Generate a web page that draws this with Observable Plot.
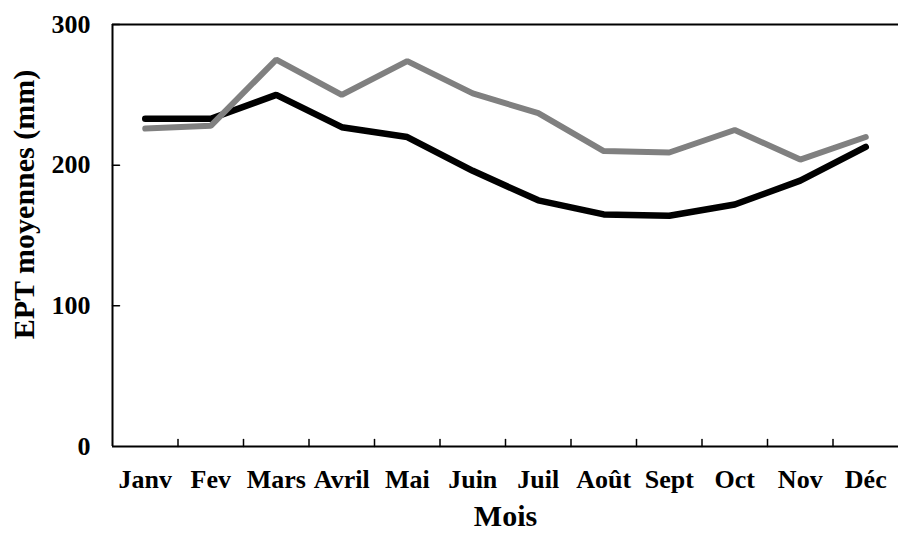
<!DOCTYPE html>
<html>
<head>
<meta charset="utf-8">
<script src="https://cdn.jsdelivr.net/npm/d3@7"></script>
<script src="https://cdn.jsdelivr.net/npm/@observablehq/plot@0.6"></script>
<style>
  html, body { margin: 0; padding: 0; background: #fff; }
</style>
</head>
<body>
<div id="chart"></div>
<script>
const months = ["Janv","Fev","Mars","Avril","Mai","Juin","Juil","Août","Sept","Oct","Nov","Déc"];
const serieNoire = [233,233,250,227,220,196,175,165,164,172,189,213];
const serieGrise = [226,228,275,250,274,251,237,210,209,225,204,220];
const yTicks = [0,100,200,300];
const yTitle = "EPT moyennes (mm)";
const xTitle = "Mois";

const idx = months.map((m, i) => i);
const boundaries = months.slice(0, -1).map((m, i) => i + 0.5);
const dataNoire = idx.map(i => ({i, v: serieNoire[i]}));
const dataGrise = idx.map(i => ({i, v: serieGrise[i]}));

const tickShape = { draw(context, l) { context.moveTo(0, 0); context.lineTo(0, -l); } };
const font = "'Liberation Serif', 'Times New Roman', serif";

const chart = Plot.plot({
  width: 898,
  height: 533,
  marginLeft: 112,
  marginRight: 0,
  marginTop: 24,
  marginBottom: 87,
  style: { fontFamily: font, fontWeight: "bold", fontSize: "26px", color: "#000", background: "#fff" },
  x: { domain: [-0.5, 11.5], axis: null },
  y: { domain: [0, 300], axis: null },
  marks: [
    Plot.axisX({ ticks: idx, tickFormat: i => months[i], tickSize: 0, tickPadding: 23, fontSize: 26, fontWeight: "bold", label: null }),
    Plot.axisY({ ticks: yTicks, tickSize: 0, tickPadding: 22, fontSize: 26, fontWeight: "bold", label: null }),
    Plot.ruleY([0, 300], { stroke: "#000", strokeWidth: 2 }),
    Plot.ruleX([-0.5], { y1: 0, y2: 300, stroke: "#000", strokeWidth: 2 }),
    Plot.vector(yTicks.slice(1), { y: d => d, frameAnchor: "left", length: 7, rotate: 90, anchor: "start", shape: tickShape, stroke: "#000", strokeWidth: 1.5 }),
    Plot.vector(boundaries, { x: d => d, frameAnchor: "bottom", length: 7, rotate: 0, anchor: "start", shape: tickShape, stroke: "#000", strokeWidth: 1.5 }),
    Plot.line(dataNoire, { x: "i", y: "v", stroke: "#000", strokeWidth: 6.5, strokeLinecap: "round", strokeLinejoin: "miter" }),
    Plot.line(dataGrise, { x: "i", y: "v", stroke: "#808080", strokeWidth: 6, strokeLinecap: "round", strokeLinejoin: "miter" }),
    Plot.text([yTitle], { frameAnchor: "left", textAnchor: "middle", lineAnchor: "middle", rotate: -90, dx: -88, dy: -31, fontSize: 30, fontWeight: "bold", fill: "#000" }),
    Plot.text([xTitle], { frameAnchor: "bottom", textAnchor: "middle", lineAnchor: "middle", dy: 70, fontSize: 30, fontWeight: "bold", fill: "#000" })
  ]
});
document.getElementById("chart").appendChild(chart);
</script>
</body>
</html>
